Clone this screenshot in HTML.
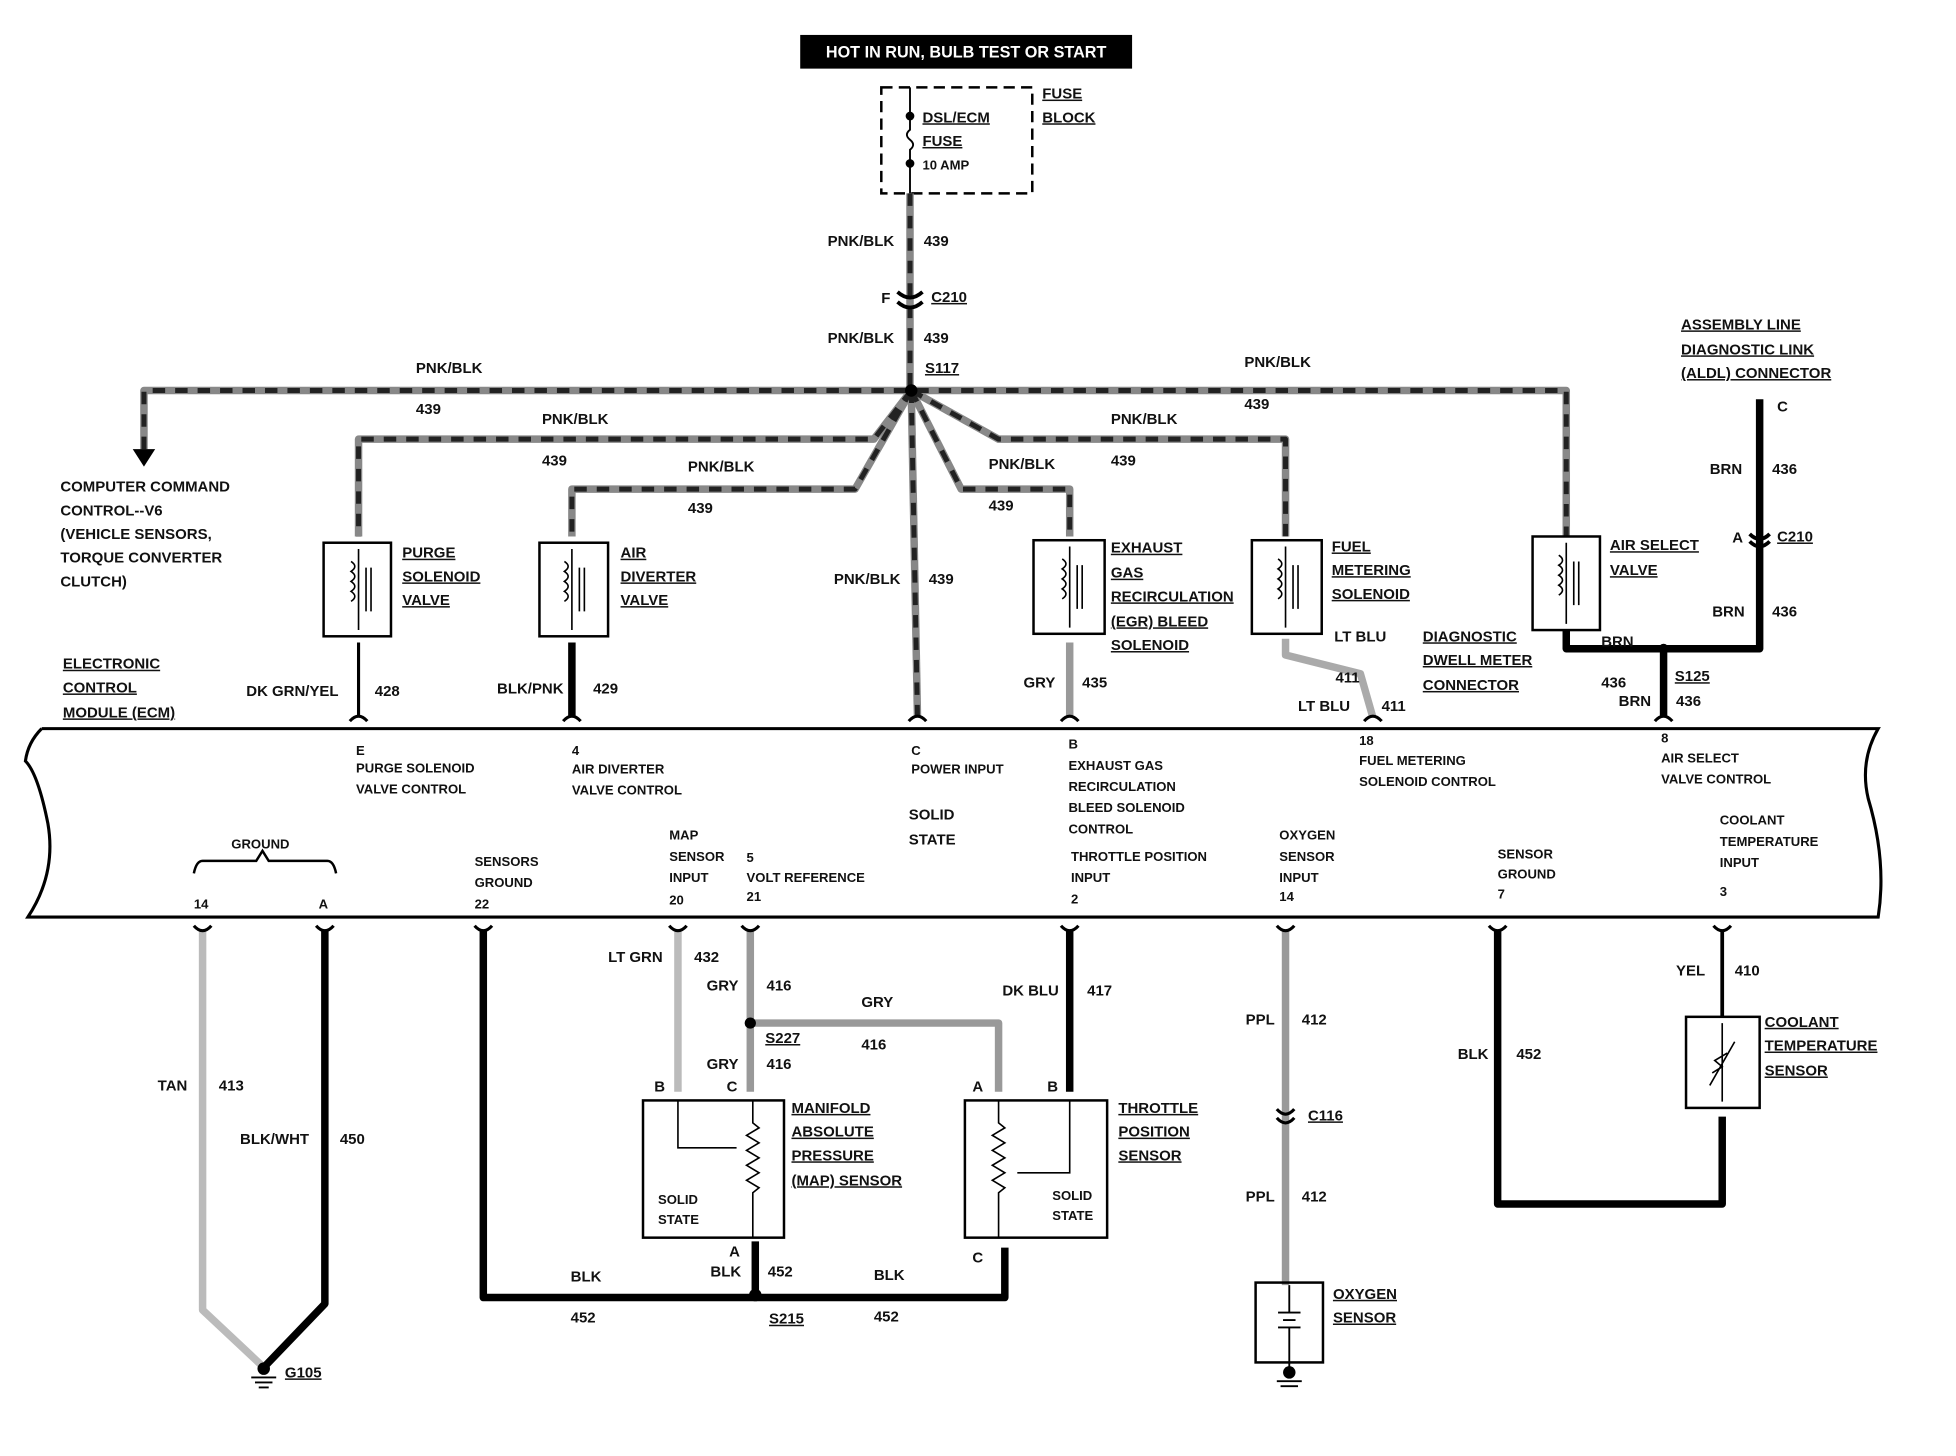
<!DOCTYPE html>
<html><head><meta charset="utf-8"><style>
html,body{margin:0;padding:0;background:#fff;}
svg{display:block;}
text{font-family:"Liberation Sans",sans-serif;font-weight:bold;font-size:12px;fill:#111;}
.u{text-decoration:underline;}
.s{font-size:10.5px;}
</style></head><body>
<svg width="1956" height="1456" viewBox="0 0 1567 1167" xmlns="http://www.w3.org/2000/svg">
<defs>
<g id="conU"><path d="M-7,-6 Q0,2 7,-6" fill="none" stroke="#000" stroke-width="2.5"/></g>
</defs>
<!-- header -->
<rect x="641" y="28" width="266" height="27" fill="#000"/>
<text x="774" y="46" text-anchor="middle" style="fill:#fff;font-size:13px">HOT IN RUN,  BULB TEST OR START</text>
<!-- fuse block -->
<rect x="706" y="70" width="121" height="85" fill="none" stroke="#000" stroke-width="2" stroke-dasharray="9,5"/>
<path d="M729,70 V104 q-5,4 0,8 q5,4 0,8 V155" fill="none" stroke="#000" stroke-width="1.5"/>
<circle cx="729" cy="93" r="3.5"/><circle cx="729" cy="131" r="3.5"/>
<text x="739" y="98" class="u">DSL/ECM</text><text x="739" y="117" class="u">FUSE</text><text x="739" y="136" class="s">10 AMP</text>
<text x="835" y="79" class="u">FUSE</text><text x="835" y="98" class="u">BLOCK</text>

<!-- PNK/BLK wires -->
<g fill="none" stroke-linejoin="round">
<g stroke="#888" stroke-width="6">
<path d="M729,155 V313"/>
<path d="M115,360 V313 H1255 V430"/>
<path d="M730,313 L700,352 H287 V430"/>
<path d="M730,313 L685,392 H458 V430"/>
<path d="M730,313 L735,575"/>
<path d="M730,313 L770,392 H857 V430"/>
<path d="M730,313 L800,352 H1030 V430"/>
</g>
<g stroke="#222" stroke-width="4" stroke-dasharray="10,8">
<path d="M729,155 V313"/>
<path d="M115,360 V313 H1255 V430"/>
<path d="M730,313 L700,352 H287 V430"/>
<path d="M730,313 L685,392 H458 V430"/>
<path d="M730,313 L735,575"/>
<path d="M730,313 L770,392 H857 V430"/>
<path d="M730,313 L800,352 H1030 V430"/>
</g>
</g>
<circle cx="730" cy="313" r="5"/>
<path d="M106,360 L124,360 L115,374 Z"/>
<path d="M719,234 Q729,243 739,234 M719,242 Q729,251 739,242" fill="none" stroke="#000" stroke-width="3"/>
<text x="663" y="197">PNK/BLK</text><text x="740" y="197">439</text>
<text x="706" y="243">F</text><text x="746" y="242" class="u">C210</text>
<text x="663" y="275">PNK/BLK</text><text x="740" y="275">439</text>
<text x="741" y="299" class="u">S117</text>
<text x="333" y="299">PNK/BLK</text><text x="333" y="332">439</text>
<text x="997" y="294">PNK/BLK</text><text x="997" y="328">439</text>
<text x="434" y="340">PNK/BLK</text><text x="434" y="373">439</text>
<text x="551" y="378">PNK/BLK</text><text x="551" y="411">439</text>
<text x="792" y="376">PNK/BLK</text><text x="792" y="409">439</text>
<text x="890" y="340">PNK/BLK</text><text x="890" y="373">439</text>
<text x="668" y="468">PNK/BLK</text><text x="744" y="468">439</text>

<text x="48" y="394">COMPUTER COMMAND</text>
<text x="48" y="413">CONTROL--V6</text>
<text x="48" y="432">(VEHICLE SENSORS,</text>
<text x="48" y="451">TORQUE CONVERTER</text>
<text x="48" y="470">CLUTCH)</text>

<!-- solenoids -->
<g fill="none" stroke="#000" stroke-width="2">
<rect x="259" y="435" width="54" height="75"/>
<rect x="432" y="435" width="55" height="75"/>
<rect x="828" y="433" width="57" height="75"/>
<rect x="1003" y="433" width="56" height="75"/>
<rect x="1228" y="430" width="54" height="75"/>
</g>
<g fill="none" stroke="#000" stroke-width="1.3">
<path d="M287,440 V505 M281,450 q6,4 0,8 q6,4 0,8 q6,4 0,8 q6,4 0,8 M293,455 V490 M297,455 V490"/>
<path d="M458,440 V505 M452,450 q6,4 0,8 q6,4 0,8 q6,4 0,8 q6,4 0,8 M464,455 V490 M468,455 V490"/>
<path d="M857,438 V503 M851,448 q6,4 0,8 q6,4 0,8 q6,4 0,8 q6,4 0,8 M863,453 V488 M867,453 V488"/>
<path d="M1030,438 V503 M1024,448 q6,4 0,8 q6,4 0,8 q6,4 0,8 q6,4 0,8 M1036,453 V488 M1040,453 V488"/>
<path d="M1255,435 V500 M1249,445 q6,4 0,8 q6,4 0,8 q6,4 0,8 q6,4 0,8 M1261,450 V485 M1265,450 V485"/>
</g>
<text x="322" y="447" class="u">PURGE</text><text x="322" y="466" class="u">SOLENOID</text><text x="322" y="485" class="u">VALVE</text>
<text x="497" y="447" class="u">AIR</text><text x="497" y="466" class="u">DIVERTER</text><text x="497" y="485" class="u">VALVE</text>
<text x="890" y="443" class="u">EXHAUST</text><text x="890" y="463" class="u">GAS</text><text x="890" y="482" class="u">RECIRCULATION</text><text x="890" y="502" class="u">(EGR) BLEED</text><text x="890" y="521" class="u">SOLENOID</text>
<text x="1067" y="442" class="u">FUEL</text><text x="1067" y="461" class="u">METERING</text><text x="1067" y="480" class="u">SOLENOID</text>
<text x="1290" y="441" class="u">AIR SELECT</text><text x="1290" y="461" class="u">VALVE</text>

<!-- wires to ECM top -->
<g fill="none" stroke-linejoin="round">
<path d="M287,515 V575" stroke="#000" stroke-width="2.5"/>
<path d="M458,515 V575" stroke="#000" stroke-width="6"/>
<path d="M857,515 V575" stroke="#999" stroke-width="6"/>
<path d="M1030,512 V525 L1090,540 L1100,575" stroke="#aaa" stroke-width="6"/>
<path d="M1255,505 V520 H1410 V320" stroke="#000" stroke-width="6"/>
<path d="M1333,520 V575" stroke="#000" stroke-width="6"/>
</g>
<circle cx="1333" cy="520" r="4"/>
<path d="M1402,428 Q1410,436 1418,428 M1402,434 Q1410,442 1418,434" fill="none" stroke="#000" stroke-width="3"/>
<text x="197" y="558">DK GRN/YEL</text><text x="300" y="558">428</text>
<text x="398" y="556">BLK/PNK</text><text x="475" y="556">429</text>
<text x="820" y="551">GRY</text><text x="867" y="551">435</text>
<text x="1069" y="514">LT BLU</text><text x="1070" y="547">411</text>
<text x="1040" y="570">LT BLU</text><text x="1107" y="570">411</text>
<text x="1140" y="514" class="u">DIAGNOSTIC</text><text x="1140" y="533" class="u">DWELL METER</text><text x="1140" y="553" class="u">CONNECTOR</text>
<text x="1347" y="264" class="u">ASSEMBLY LINE</text><text x="1347" y="284" class="u">DIAGNOSTIC LINK</text><text x="1347" y="303" class="u">(ALDL) CONNECTOR</text>
<text x="1424" y="330">C</text>
<text x="1370" y="380">BRN</text><text x="1420" y="380">436</text>
<text x="1388" y="435">A</text><text x="1424" y="434" class="u">C210</text>
<text x="1372" y="494">BRN</text><text x="1420" y="494">436</text>
<text x="1283" y="518">BRN</text><text x="1283" y="551">436</text>
<text x="1342" y="546" class="u">S125</text>
<text x="1297" y="566">BRN</text><text x="1343" y="566">436</text>

<text x="50" y="536" class="u">ELECTRONIC</text><text x="50" y="555" class="u">CONTROL</text><text x="50" y="575" class="u">MODULE (ECM)</text>

<!-- ECM band -->
<path d="M33,584 H1505 Q1490,610 1497,640 Q1512,690 1505,735 H22 Q45,700 38,660 Q30,620 20,610 Q22,595 33,584" fill="none" stroke="#000" stroke-width="2.5"/>
<g class="s">
<text x="285" y="605" class="s">E</text><text x="285" y="619" class="s">PURGE SOLENOID</text><text x="285" y="636" class="s">VALVE CONTROL</text>
<text x="458" y="605" class="s">4</text><text x="458" y="620" class="s">AIR DIVERTER</text><text x="458" y="637" class="s">VALVE CONTROL</text>
<text x="730" y="605" class="s">C</text><text x="730" y="620" class="s">POWER INPUT</text>
<text x="728" y="657">SOLID</text><text x="728" y="677">STATE</text>
<text x="856" y="600" class="s">B</text><text x="856" y="617" class="s">EXHAUST GAS</text><text x="856" y="634" class="s">RECIRCULATION</text><text x="856" y="651" class="s">BLEED SOLENOID</text><text x="856" y="668" class="s">CONTROL</text>
<text x="858" y="690" class="s">THROTTLE POSITION</text><text x="858" y="707" class="s">INPUT</text><text x="858" y="724" class="s">2</text>
<text x="1089" y="597" class="s">18</text><text x="1089" y="613" class="s">FUEL METERING</text><text x="1089" y="630" class="s">SOLENOID CONTROL</text>
<text x="1331" y="595" class="s">8</text><text x="1331" y="611" class="s">AIR SELECT</text><text x="1331" y="628" class="s">VALVE CONTROL</text>
<text x="185" y="680" class="s">GROUND</text>
<text x="155" y="728" class="s">14</text><text x="255" y="728" class="s">A</text>
<text x="380" y="694" class="s">SENSORS</text><text x="380" y="711" class="s">GROUND</text><text x="380" y="728" class="s">22</text>
<text x="536" y="673" class="s">MAP</text><text x="536" y="690" class="s">SENSOR</text><text x="536" y="707" class="s">INPUT</text><text x="536" y="725" class="s">20</text>
<text x="598" y="691" class="s">5</text><text x="598" y="707" class="s">VOLT REFERENCE</text><text x="598" y="722" class="s">21</text>
<text x="1025" y="673" class="s">OXYGEN</text><text x="1025" y="690" class="s">SENSOR</text><text x="1025" y="707" class="s">INPUT</text><text x="1025" y="722" class="s">14</text>
<text x="1200" y="688" class="s">SENSOR</text><text x="1200" y="704" class="s">GROUND</text><text x="1200" y="720" class="s">7</text>
<text x="1378" y="661" class="s">COOLANT</text><text x="1378" y="678" class="s">TEMPERATURE</text><text x="1378" y="695" class="s">INPUT</text><text x="1378" y="718" class="s">3</text>
</g>
<path d="M155,700 Q157,690 162,690 H205 L210,682 L215,690 H262 Q267,690 269,700" fill="none" stroke="#000" stroke-width="2"/>

<!-- lower wires -->
<g fill="none" stroke-linejoin="round">
<path d="M162,745 V1050 L210,1095" stroke="#bbb" stroke-width="6"/>
<path d="M260,745 V1045 L212,1095" stroke="#000" stroke-width="6"/>
<path d="M387,745 V1040 H805 V1000" stroke="#000" stroke-width="6"/>
<path d="M605,995 V1040" stroke="#000" stroke-width="6"/>
<path d="M543,745 V875" stroke="#bbb" stroke-width="6"/>
<path d="M601,745 V875 M601,820 H800 V875" stroke="#999" stroke-width="6"/>
<path d="M857,745 V875" stroke="#000" stroke-width="6"/>
<path d="M1030,745 V1030" stroke="#999" stroke-width="6"/>
<path d="M1200,745 V965 H1380 V895" stroke="#000" stroke-width="6"/>
<path d="M1380,745 V815" stroke="#000" stroke-width="3"/>
</g>
<g fill="none" stroke="#000" stroke-width="2.5">
<path d="M155,742 Q162,750 169,742 M253,742 Q260,750 267,742 M380,742 Q387,750 394,742 M536,742 Q543,750 550,742 M594,742 Q601,750 608,742 M850,742 Q857,750 864,742 M1023,742 Q1030,750 1037,742 M1193,742 Q1200,750 1207,742 M1373,742 Q1380,750 1387,742"/>
<path d="M280,578 Q287,570 294,578 M451,578 Q458,570 465,578 M728,578 Q735,570 742,578 M850,578 Q857,570 864,578 M1093,578 Q1100,570 1107,578 M1326,578 Q1333,570 1340,578"/>
<path d="M1023,889 Q1030,897 1037,889 M1023,896 Q1030,904 1037,896"/>
</g>
<circle cx="601" cy="820" r="4.5"/><circle cx="605" cy="1038" r="5"/>
<!-- ground G105 -->
<circle cx="211" cy="1097" r="5"/>
<path d="M201,1104 H221 M204,1108 H218 M207,1112 H215" stroke="#000" stroke-width="1.5"/>
<text x="228" y="1104" class="u">G105</text>
<text x="126" y="874">TAN</text><text x="175" y="874">413</text>
<text x="192" y="917">BLK/WHT</text><text x="272" y="917">450</text>
<text x="487" y="771">LT GRN</text><text x="556" y="771">432</text>
<text x="566" y="794">GRY</text><text x="614" y="794">416</text>
<text x="690" y="807">GRY</text><text x="690" y="841">416</text>
<text x="613" y="836" class="u">S227</text>
<text x="566" y="857">GRY</text><text x="614" y="857">416</text>
<text x="803" y="798">DK BLU</text><text x="871" y="798">417</text>
<text x="457" y="1027">BLK</text><text x="457" y="1060">452</text>
<text x="569" y="1023">BLK</text><text x="615" y="1023">452</text>
<text x="700" y="1026">BLK</text><text x="700" y="1059">452</text>
<text x="616" y="1061" class="u">S215</text>
<text x="584" y="1007">A</text><text x="779" y="1012">C</text>
<!-- MAP sensor -->
<rect x="515" y="882" width="113" height="110" fill="none" stroke="#000" stroke-width="2"/>
<path d="M543,882 V920 H590" fill="none" stroke="#000" stroke-width="1.3"/>
<path d="M603,882 V900 l5,4 -10,6 10,6 -10,6 10,6 -10,6 10,6 -10,6 10,6 -5,4 V992" fill="none" stroke="#000" stroke-width="1.3"/>
<text x="524" y="875">B</text><text x="582" y="875">C</text>
<text x="527" y="965" class="s">SOLID</text><text x="527" y="981" class="s">STATE</text>
<text x="634" y="892" class="u">MANIFOLD</text><text x="634" y="911" class="u">ABSOLUTE</text><text x="634" y="930" class="u">PRESSURE</text><text x="634" y="950" class="u">(MAP) SENSOR</text>
<!-- TPS -->
<rect x="773" y="882" width="114" height="110" fill="none" stroke="#000" stroke-width="2"/>
<path d="M857,882 V940 H815" fill="none" stroke="#000" stroke-width="1.3"/>
<path d="M800,882 V900 l5,4 -10,6 10,6 -10,6 10,6 -10,6 10,6 -10,6 10,6 -5,4 V992" fill="none" stroke="#000" stroke-width="1.3"/>
<text x="779" y="875">A</text><text x="839" y="875">B</text>
<text x="843" y="962" class="s">SOLID</text><text x="843" y="978" class="s">STATE</text>
<text x="896" y="892" class="u">THROTTLE</text><text x="896" y="911" class="u">POSITION</text><text x="896" y="930" class="u">SENSOR</text>
<!-- oxygen -->
<text x="998" y="821">PPL</text><text x="1043" y="821">412</text>
<text x="1048" y="898" class="u">C116</text>
<text x="998" y="963">PPL</text><text x="1043" y="963">412</text>
<rect x="1006" y="1028" width="54" height="64" fill="none" stroke="#000" stroke-width="2"/>
<path d="M1033,1030 V1052 M1024,1052 H1042 M1028,1058 H1038 M1024,1064 H1042 M1033,1064 V1092 V1100" stroke="#000" stroke-width="1.5" fill="none"/>
<circle cx="1033" cy="1100" r="5"/>
<path d="M1023,1107 H1043 M1026,1111 H1040" stroke="#000" stroke-width="1.5"/>
<text x="1068" y="1041" class="u">OXYGEN</text><text x="1068" y="1060" class="u">SENSOR</text>
<!-- coolant -->
<text x="1168" y="849">BLK</text><text x="1215" y="849">452</text>
<text x="1343" y="782">YEL</text><text x="1390" y="782">410</text>
<rect x="1351" y="815" width="59" height="73" fill="none" stroke="#000" stroke-width="2"/>
<path d="M1380,820 V883 M1370,870 L1390,835 M1372,860 l8,-5 -6,-5 10,-6" fill="none" stroke="#000" stroke-width="1.3"/>
<text x="1414" y="823" class="u">COOLANT</text><text x="1414" y="842" class="u">TEMPERATURE</text><text x="1414" y="862" class="u">SENSOR</text>
</svg>
</body></html>
